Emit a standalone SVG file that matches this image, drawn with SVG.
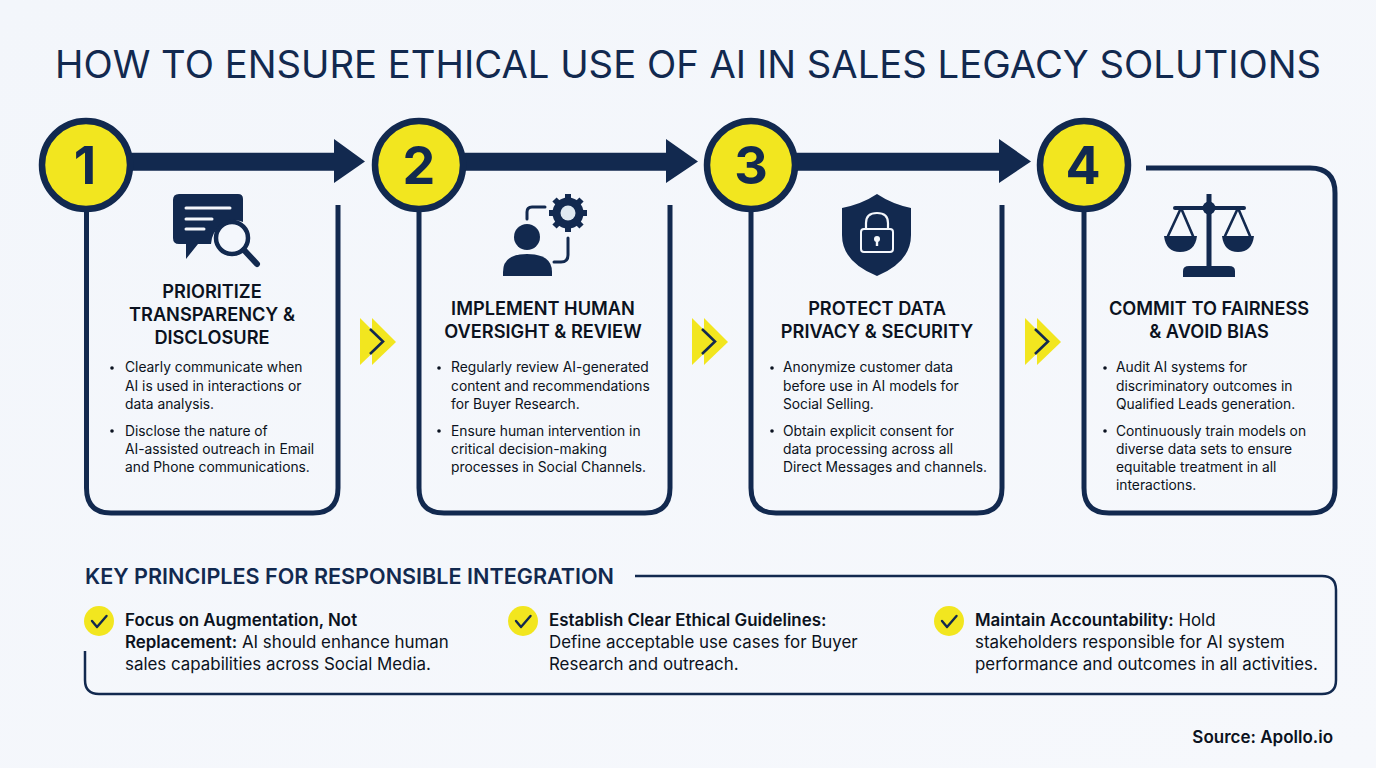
<svg xmlns="http://www.w3.org/2000/svg" width="1376" height="768" viewBox="0 0 1376 768">
<defs>
<style>
text{font-family:Inter,"Liberation Sans",Arial,sans-serif;fill:#0b1220}
.t{font-size:37.5px;fill:#12294f;font-weight:400}
.h{font-size:18.2px;font-weight:600;text-anchor:middle}
.b{font-size:13.8px;font-weight:400}
.k{font-size:21.6px;font-weight:600;fill:#12294f}
.p{font-size:16.9px;font-weight:400}
.p tspan.s{font-weight:600}
.n{font-size:52px;font-weight:700;fill:#12294f;text-anchor:middle}
.line{fill:none;stroke:#12294f;stroke-width:5}
.c{fill:#f2e61f;stroke:#12294f;stroke-width:6.5}
.ink{fill:#12294f}
.y{fill:#f2e61f}
.nl{fill:none;stroke:#12294f;stroke-linecap:round;stroke-linejoin:round}
</style>
<linearGradient id="bg" x1="0" y1="0" x2="1" y2="1"><stop offset="0" stop-color="#f3f6fb"/><stop offset="1" stop-color="#f6f8fc"/></linearGradient>
<g id="chev"><path class="y" d="M0 0L24 24L0 47Z"/><path class="y" d="M12 0L36 24L12 47Z"/><path d="M10 11L23 23.500L10 36" fill="none" stroke="#12294f" stroke-width="2.600"/></g>
<g id="tick"><circle cx="0" cy="0" r="15" class="y"/><path d="M-7 0L-2 6L7.500 -5" fill="none" stroke="#12294f" stroke-width="2.400" stroke-linecap="round" stroke-linejoin="round"/></g>
</defs>
<rect width="1376" height="768" fill="url(#bg)"/>
<text class="t" x="55" y="78" textLength="1266" lengthAdjust="spacingAndGlyphs">HOW TO ENSURE ETHICAL USE OF AI IN SALES LEGACY SOLUTIONS</text>

<g id="connectors">
<path class="ink" d="M130 152.700H334V139L365 161.500L334 183V170.700H130Z"/>
<path class="ink" d="M463 152.700H666V139L698 161.500L666 183V170.700H463Z"/>
<path class="ink" d="M795 152.700H999V139L1031 161.500L999 183V170.700H795Z"/>
<use href="#chev" x="360" y="318"/>
<use href="#chev" x="692" y="318"/>
<use href="#chev" x="1025" y="318"/>
</g>

<g id="card1">
<path class="line" d="M86.500 205V488Q86.500 513 111 513H313Q338 513 338 488V205"/>
<circle class="c" cx="86" cy="165" r="44"/>
<text class="n" x="85" y="184">1</text>
<path class="ink" d="M179 194H238Q243 194 243 199V222A24 24 0 0 0 211 244H198L186 259V244H179Q173 244 173 238V200Q173 194 179 194Z"/>
<path d="M186 208H230M186 219H212M186 229H204" fill="none" stroke="#f4f7fc" stroke-width="3" stroke-linecap="round"/>
<circle cx="232" cy="238" r="16" fill="#f4f7fc" stroke="#12294f" stroke-width="4.500"/>
<path class="nl" stroke-width="6" d="M244 250L257 264"/>
<text class="h"><tspan x="212" y="298">PRIORITIZE</tspan><tspan x="212" y="321">TRANSPARENCY &amp;</tspan><tspan x="212" y="344">DISCLOSURE</tspan></text>
<circle cx="112" cy="368" r="1.800" fill="#0b1220"/><circle cx="112" cy="431" r="1.800" fill="#0b1220"/>
<text class="b"><tspan x="125" y="372">Clearly communicate when</tspan><tspan x="125" y="391">AI is used in interactions or</tspan><tspan x="125" y="409">data analysis.</tspan><tspan x="125" y="436">Disclose the nature of</tspan><tspan x="125" y="454">AI-assisted outreach in Email</tspan><tspan x="125" y="472">and Phone communications.</tspan></text>
</g>

<g id="card2">
<path class="line" d="M419 205V488Q419 513 444 513H645Q670 513 670 488V205"/>
<circle class="c" cx="419" cy="165" r="44"/>
<text class="n" x="419" y="184">2</text>
<circle class="ink" cx="527" cy="237" r="13"/>
<path class="ink" d="M503 276V272Q503 254 527 254Q552 254 552 272V276Z"/>
<path class="nl" stroke-width="3" d="M527 219V212Q527 207 532 207H545M568 238V255Q568 262 561 262H554"/>
<circle cx="568" cy="213" r="15.500" class="ink"/>
<path d="M568 194V232M549 213H587M554.500 199.500L581.500 226.500M554.500 226.500L581.500 199.500" stroke="#12294f" stroke-width="6" fill="none"/>
<circle cx="568" cy="213" r="7.500" fill="#dfe8f0"/>
<text class="h"><tspan x="543" y="315">IMPLEMENT HUMAN</tspan><tspan x="543" y="338">OVERSIGHT &amp; REVIEW</tspan></text>
<circle cx="439" cy="368" r="1.800" fill="#0b1220"/><circle cx="439" cy="431" r="1.800" fill="#0b1220"/>
<text class="b"><tspan x="451" y="372">Regularly review AI-generated</tspan><tspan x="451" y="391">content and recommendations</tspan><tspan x="451" y="409">for Buyer Research.</tspan><tspan x="451" y="436">Ensure human intervention in</tspan><tspan x="451" y="454">critical decision-making</tspan><tspan x="451" y="472">processes in Social Channels.</tspan></text>
</g>

<g id="card3">
<path class="line" d="M751 205V488Q751 513 776 513H977Q1002 513 1002 488V205"/>
<circle class="c" cx="751" cy="165" r="44"/>
<text class="n" x="751" y="184">3</text>
<path class="ink" d="M877 194Q892 204 911 208V235Q911 262 877 276Q842 262 842 235V208Q862 204 877 194Z"/>
<rect x="861" y="229" width="32" height="23" rx="3" fill="none" stroke="#f4f7fc" stroke-width="2"/>
<path d="M866 229V223Q866 213 877 213Q888 213 888 223V229" fill="none" stroke="#f4f7fc" stroke-width="2.200"/>
<circle cx="877" cy="239" r="3" fill="#f4f7fc"/><rect x="875.800" y="239" width="2.400" height="7" fill="#f4f7fc"/>
<text class="h"><tspan x="877" y="315">PROTECT DATA</tspan><tspan x="877" y="338">PRIVACY &amp; SECURITY</tspan></text>
<circle cx="772" cy="368" r="1.800" fill="#0b1220"/><circle cx="772" cy="431" r="1.800" fill="#0b1220"/>
<text class="b"><tspan x="783" y="372">Anonymize customer data</tspan><tspan x="783" y="391">before use in AI models for</tspan><tspan x="783" y="409">Social Selling.</tspan><tspan x="783" y="436">Obtain explicit consent for</tspan><tspan x="783" y="454">data processing across all</tspan><tspan x="783" y="472">Direct Messages and channels.</tspan></text>
</g>

<g id="card4">
<path class="line" d="M1084 205V488Q1084 513 1109 513H1310Q1335 513 1335 488V193Q1335 168 1310 168H1146"/>
<circle class="c" cx="1084" cy="165" r="44"/>
<text class="n" x="1083" y="184">4</text>
<path class="nl" stroke-width="4" d="M1175 208H1244"/>
<rect x="1206.500" y="194" width="5" height="76" class="ink"/>
<circle class="ink" cx="1209" cy="208" r="6.500"/>
<path class="ink" d="M1183 277V271Q1183 266 1189 266H1229Q1235 266 1235 271V277Z"/>
<path class="nl" stroke-width="2.600" d="M1181 208L1168 236M1181 208L1193 236M1238 208L1225 236M1238 208L1250 236"/>
<path class="ink" d="M1164 236H1197Q1195 252 1180 252Q1166 252 1164 236Z"/>
<path class="ink" d="M1222 236H1254Q1252 252 1238 252Q1224 252 1222 236Z"/>
<text class="h"><tspan x="1209" y="315">COMMIT TO FAIRNESS</tspan><tspan x="1209" y="338">&amp; AVOID BIAS</tspan></text>
<circle cx="1105" cy="368" r="1.800" fill="#0b1220"/><circle cx="1105" cy="431" r="1.800" fill="#0b1220"/>
<text class="b"><tspan x="1116" y="372">Audit AI systems for</tspan><tspan x="1116" y="391">discriminatory outcomes in</tspan><tspan x="1116" y="409">Qualified Leads generation.</tspan><tspan x="1116" y="436">Continuously train models on</tspan><tspan x="1116" y="454">diverse data sets to ensure</tspan><tspan x="1116" y="472">equitable treatment in all</tspan><tspan x="1116" y="490">interactions.</tspan></text>
</g>

<g id="principles">
<path fill="none" stroke="#12294f" stroke-width="2.500" d="M85 651V680Q85 694 99 694H1322Q1336 694 1336 680V590Q1336 576 1322 576H635"/>
<text class="k" x="85" y="584">KEY PRINCIPLES FOR RESPONSIBLE INTEGRATION</text>
</g>
<g id="principle1">
<use href="#tick" x="99" y="621"/>
<text class="p"><tspan class="s" x="125" y="626">Focus on Augmentation, Not</tspan><tspan class="s" x="125" y="648">Replacement:</tspan><tspan> AI should enhance human</tspan><tspan x="125" y="670">sales capabilities across Social Media.</tspan></text>
</g>
<g id="principle2">
<use href="#tick" x="523" y="621"/>
<text class="p"><tspan class="s" x="549" y="626">Establish Clear Ethical Guidelines:</tspan><tspan x="549" y="648">Define acceptable use cases for Buyer</tspan><tspan x="549" y="670">Research and outreach.</tspan></text>
</g>
<g id="principle3">
<use href="#tick" x="949" y="621"/>
<text class="p"><tspan class="s" x="975" y="626">Maintain Accountability:</tspan><tspan> Hold</tspan><tspan x="975" y="648">stakeholders responsible for AI system</tspan><tspan x="975" y="670">performance and outcomes in all activities.</tspan></text>
</g>
<text x="1333" y="743" text-anchor="end" font-size="17" font-weight="600">Source: Apollo.io</text>
</svg>
